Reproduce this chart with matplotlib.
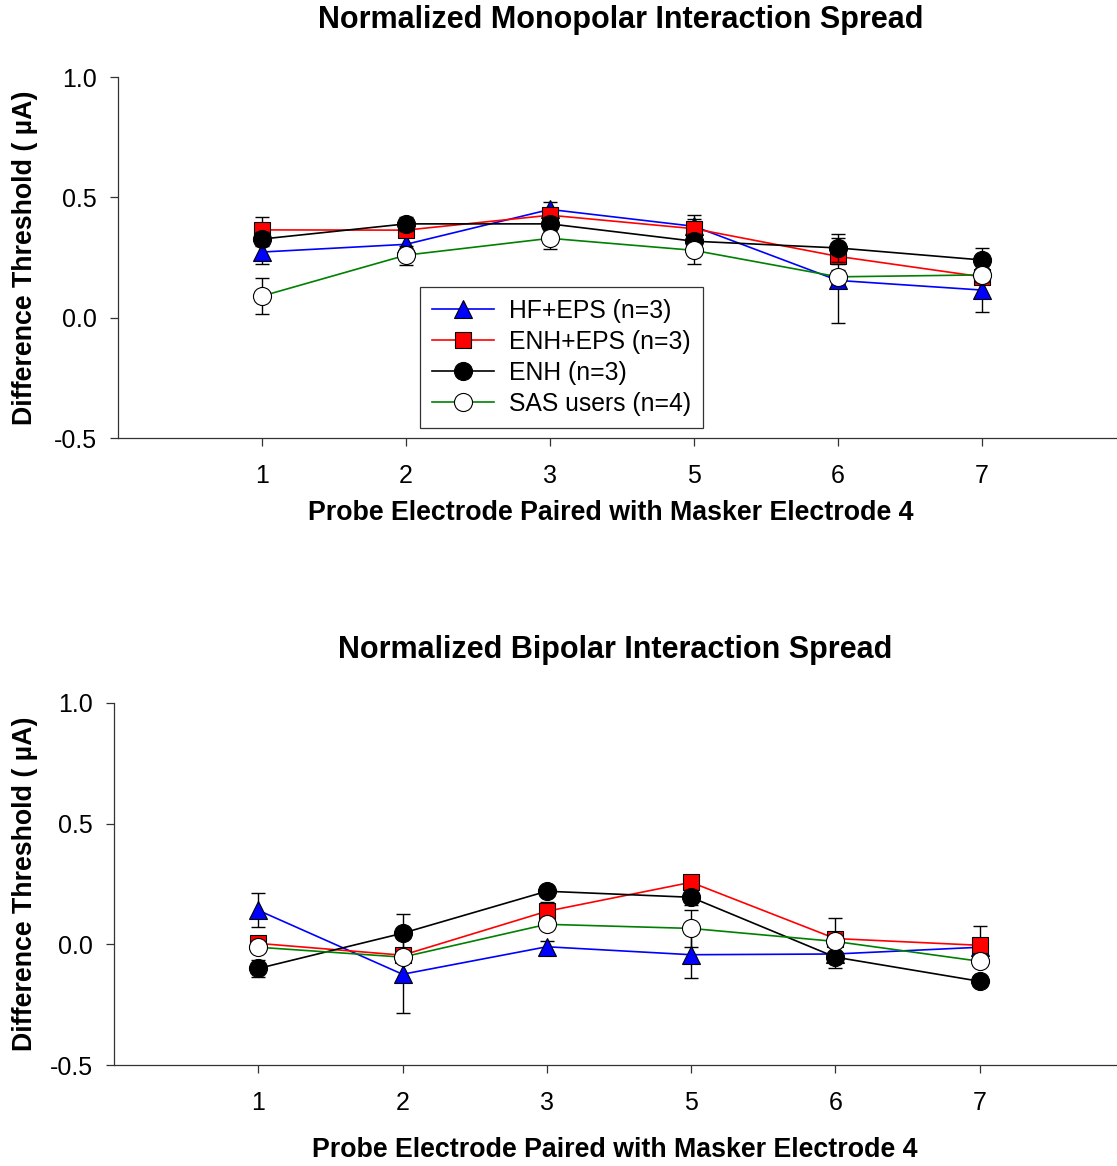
import matplotlib
matplotlib.use("Agg")
import matplotlib.pyplot as plt

plt.rcParams['font.family'] = ['Liberation Sans', 'DejaVu Sans']

electrodes = ["1", "2", "3", "5", "6", "7"]
groups = ["HF+EPS (n=3)", "ENH+EPS (n=3)", "ENH (n=3)", "SAS users (n=4)"]

# monopolar means and standard errors, one list per group
mono_hf_eps = [0.273, 0.305, 0.450, 0.380, 0.155, 0.115]
mono_enh_eps = [0.365, 0.364, 0.426, 0.370, 0.255, 0.170]
mono_enh = [0.327, 0.390, 0.390, 0.318, 0.290, 0.240]
mono_sas = [0.090, 0.260, 0.330, 0.280, 0.170, 0.178]
mono_hf_eps_err = [0.05, 0.03, 0.03, 0.03, 0.175, 0.09]
mono_enh_eps_err = [0.055, 0.03, 0.03, 0.055, 0.03, 0.03]
mono_enh_err = [0.03, 0.03, 0.03, 0.03, 0.06, 0.05]
mono_sas_err = [0.075, 0.04, 0.045, 0.055, 0.03, 0.03]

# bipolar means and standard errors
bi_hf_eps = [0.141, -0.124, -0.010, -0.043, -0.040, -0.012]
bi_enh_eps = [0.004, -0.045, 0.137, 0.257, 0.024, -0.004]
bi_enh = [-0.100, 0.046, 0.220, 0.195, -0.053, -0.153]
bi_sas = [-0.012, -0.053, 0.083, 0.066, 0.012, -0.070]
bi_hf_eps_err = [0.07, 0.16, 0.025, 0.095, 0.03, 0.03]
bi_enh_eps_err = [0.02, 0.02, 0.04, 0.02, 0.085, 0.08]
bi_enh_err = [0.035, 0.08, 0.02, 0.03, 0.045, 0.02]
bi_sas_err = [0.02, 0.02, 0.02, 0.075, 0.02, 0.02]

styles = [
    dict(color="blue", marker="^", mfc="blue"),
    dict(color="red", marker="s", mfc="red"),
    dict(color="black", marker="o", mfc="black"),
    dict(color="green", marker="o", mfc="white"),
]


def draw_panel(ax, means, errs, xlabel_pos, ylabel_x):
    xpos = list(range(1, len(electrodes) + 1))
    for i, (m, e, st) in enumerate(zip(means, errs, styles)):
        ax.errorbar(xpos, m, yerr=e, fmt="none", ecolor="black",
                    elinewidth=1.0, capsize=5, capthick=1.0, zorder=2 + i)
        ms = 12 if st["marker"] == "s" else 13
        ax.plot(xpos, m, color=st["color"], lw=1.2, marker=st["marker"],
                ms=ms, mfc=st["mfc"], mec="black", mew=0.8,
                label=groups[i], zorder=3 + i)
    ax.set_xlim(0, 7)
    ax.set_ylim(-0.5, 1.0)
    ax.set_xticks(xpos)
    ax.set_xticklabels(electrodes)
    ax.set_yticks([-0.5, 0.0, 0.5, 1.0])
    ax.set_yticklabels(["-0.5", "0.0", "0.5", "1.0"])
    ax.spines["top"].set_visible(False)
    ax.spines["right"].set_visible(False)
    for s in ("left", "bottom"):
        ax.spines[s].set_color("#333333")
        ax.spines[s].set_linewidth(0.9)
    ax.tick_params(axis="both", direction="out", length=6, labelsize=18,
                   width=0.9, color="#333333", labelcolor="black")
    ax.tick_params(axis="x", pad=13)
    ax.tick_params(axis="y", pad=9)
    ax.set_xlabel("Probe Electrode Paired with Masker Electrode 4",
                  fontsize=19.3, fontweight="bold", va="center")
    ax.xaxis.set_label_coords(*xlabel_pos)
    ax.set_ylabel("Difference Threshold ( \u00b5A)", fontsize=19.3,
                  fontweight="bold", va="center", ha="center")
    ax.yaxis.set_label_coords(ylabel_x, 0.5)


fig = plt.figure(figsize=(11.17, 11.66), dpi=100)
ax1 = fig.add_axes([0.1056, 0.6243, 0.9024, 0.3096])
ax2 = fig.add_axes([0.1021, 0.0866, 0.9040, 0.3105])

draw_panel(ax1, [mono_hf_eps, mono_enh_eps, mono_enh, mono_sas],
           [mono_hf_eps_err, mono_enh_eps_err, mono_enh_err, mono_sas_err],
           (0.489, -0.208), -0.0923)
draw_panel(ax2, [bi_hf_eps, bi_enh_eps, bi_enh, bi_sas],
           [bi_hf_eps_err, bi_enh_eps_err, bi_enh_err, bi_sas_err],
           (0.496, -0.235), -0.088)

fig.text(621 / 1117, 1 - 20 / 1166, "Normalized Monopolar Interaction Spread",
         fontsize=22, fontweight="bold", ha="center", va="center")
fig.text(615 / 1117, 1 - 650 / 1166, "Normalized Bipolar Interaction Spread",
         fontsize=22, fontweight="bold", ha="center", va="center")

leg = ax1.legend(loc="lower left", bbox_to_anchor=(0.2996, 0.0277),
                 borderaxespad=0, fontsize=17.8, handlelength=2.5,
                 labelspacing=0.28, fancybox=False, framealpha=1,
                 edgecolor="#333333", borderpad=0.5, handletextpad=0.6)
leg.get_frame().set_linewidth(0.9)

fig.savefig("out.png", dpi=100)
